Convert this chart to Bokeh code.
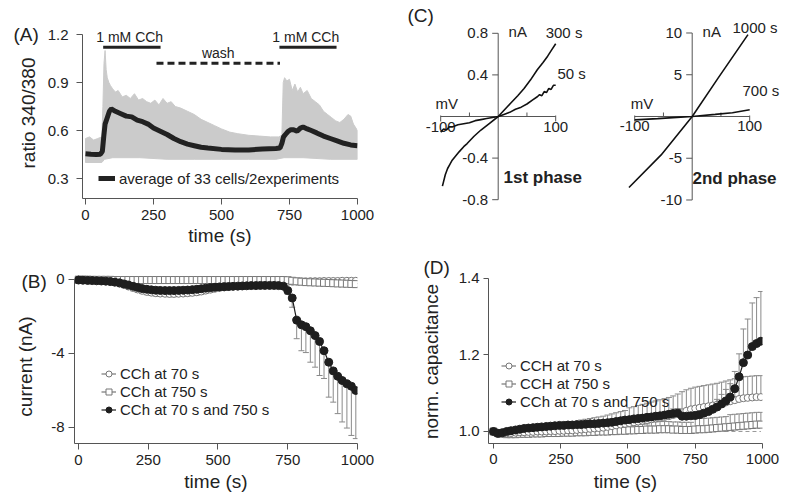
import math
from bokeh.plotting import figure
from bokeh.layouts import column, row
from bokeh.models import (ColumnDataSource, Whisker, TeeHead, Legend, LegendItem,
                          FixedTicker, PrintfTickFormatter, Range1d)
from bokeh.embed import file_html
from bokeh.resources import INLINE
from bokeh.core.properties import value

FONT = "Liberation Sans"
TXT = "#222222"
AX = "#555555"

# ---------------- Panel A data ----------------
avg_t = [0, 20, 40, 55, 62, 67, 72, 80, 88, 95, 110, 130, 150, 170, 190, 210, 230, 250, 275, 300,
         325, 350, 375, 400, 425, 450, 500, 550, 600, 650, 700, 715, 722, 728, 735, 745, 755, 765,
         778, 790, 800, 815, 830, 850, 875, 900, 925, 950, 975, 1000]
avg_v = [0.455, 0.452, 0.450, 0.452, 0.47, 0.56, 0.64, 0.68, 0.72, 0.735, 0.72, 0.705, 0.69, 0.685,
         0.665, 0.655, 0.64, 0.615, 0.595, 0.575, 0.55, 0.53, 0.515, 0.505, 0.495, 0.49, 0.482,
         0.478, 0.478, 0.485, 0.488, 0.49, 0.52, 0.56, 0.575, 0.595, 0.605, 0.605, 0.595, 0.615,
         0.622, 0.61, 0.60, 0.585, 0.565, 0.55, 0.535, 0.52, 0.51, 0.505]
cells_up_t = [0, 15, 30, 45, 60, 64, 68, 72, 76, 80, 86, 92, 100, 110, 120, 135, 150, 165, 180, 195,
              210, 225, 240, 255, 270, 285, 300, 315, 330, 350, 375, 400, 425, 450, 475, 500, 530,
              560, 600, 640, 680, 710, 722, 727, 732, 740, 750, 760, 770, 780, 790, 800, 815, 830,
              845, 860, 875, 890, 905, 920, 935, 950, 965, 975, 985, 1000]
cells_up_v = [0.55, 0.56, 0.54, 0.55, 0.56, 0.75, 1.02, 1.10, 0.98, 0.93, 0.90, 0.88, 0.86, 0.84,
              0.85, 0.81, 0.82, 0.80, 0.83, 0.79, 0.80, 0.78, 0.77, 0.79, 0.76, 0.80, 0.77, 0.78,
              0.75, 0.74, 0.72, 0.70, 0.67, 0.65, 0.63, 0.61, 0.59, 0.58, 0.57, 0.565, 0.56, 0.56,
              0.57, 0.90, 0.93, 0.91, 0.92, 0.85, 0.89, 0.84, 0.87, 0.83, 0.85, 0.80, 0.78, 0.76,
              0.72, 0.70, 0.68, 0.66, 0.65, 0.67, 0.70, 0.69, 0.64, 0.60]
cells_lo_t = [0, 60, 70, 100, 200, 300, 400, 500, 600, 700, 730, 800, 900, 1000]
cells_lo_v = [0.40, 0.40, 0.42, 0.43, 0.43, 0.42, 0.42, 0.42, 0.42, 0.42, 0.43, 0.43, 0.42, 0.42]
cch_on = [65, 713]
cch_off = [276, 923]
cch_text = ["1 mM CCh", "1 mM CCh"]
wash_on = [261]
wash_off = [715]
wash_text = ["wash"]
a_xticks = [0, 250, 500, 750, 1000]
a_yticks = [0.3, 0.6, 0.9, 1.2]

# ---------------- Panels B and D data ----------------
sweep_t = [0, 16, 33, 49, 65, 82, 98, 114, 130, 147, 163, 179, 196, 212, 228, 245, 261, 277, 293, 310,
           326, 342, 359, 375, 391, 408, 424, 440, 456, 473, 489, 505, 522, 538, 554, 571, 587, 603,
           619, 636, 652, 668, 685, 701, 717, 734, 750, 766, 782, 799, 815, 831, 848, 864, 880, 897,
           913, 929, 945, 962, 978, 994]

B_both = [-0.03, -0.04, -0.05, -0.06, -0.07, -0.08, -0.09, -0.11, -0.14, -0.18,
          -0.24, -0.30, -0.37, -0.43, -0.49, -0.53, -0.56, -0.58, -0.59, -0.60,
          -0.60, -0.60, -0.59, -0.58, -0.57, -0.55, -0.53, -0.50, -0.47, -0.44,
          -0.42, -0.40, -0.39, -0.38, -0.37, -0.36, -0.35, -0.34, -0.33, -0.33,
          -0.32, -0.32, -0.32, -0.32, -0.33, -0.36, -0.60, -1.00, -2.20, -2.45,
          -2.55, -2.77, -3.03, -3.35, -3.85, -4.47, -4.94, -5.23, -5.46, -5.64,
          -5.77, -6.00]
B_both_err = [0.05] * 10 + [0.10] * 20 + [0.08] * 16 + [
    0.20, 0.50, 1.00, 1.40, 1.40, 1.70, 1.71, 1.84, 1.50, 1.89, 1.69, 2.02, 2.24, 2.39, 2.66, 2.60]
B_70 = [-0.01, -0.01, -0.02, -0.02, -0.03, -0.05, -0.08, -0.12, -0.17, -0.23,
        -0.30, -0.38, -0.46, -0.54, -0.61, -0.67, -0.71, -0.74, -0.76, -0.77,
        -0.78, -0.78, -0.77, -0.76, -0.74, -0.72, -0.69, -0.65, -0.60, -0.55,
        -0.50, -0.46, -0.43, -0.40, -0.37, -0.35, -0.33, -0.31, -0.29, -0.27,
        -0.25, -0.23, -0.21, -0.19, -0.17, -0.15, -0.13, -0.12, -0.11, -0.10,
        -0.10, -0.09, -0.09, -0.09, -0.08, -0.08, -0.08, -0.08, -0.07, -0.07,
        -0.07, -0.07]
B_70_err = [0.03] * 12 + [0.15] * 18 + [0.10] * 16 + [0.06] * 16
B_750 = [-0.01, -0.01, -0.01, -0.02, -0.02, -0.02, -0.02, -0.02, -0.03, -0.03,
         -0.03, -0.03, -0.03, -0.03, -0.03, -0.03, -0.03, -0.03, -0.03, -0.03,
         -0.03, -0.03, -0.03, -0.03, -0.03, -0.03, -0.03, -0.03, -0.03, -0.03,
         -0.03, -0.03, -0.03, -0.03, -0.03, -0.03, -0.03, -0.03, -0.03, -0.03,
         -0.03, -0.03, -0.03, -0.03, -0.03, -0.03, -0.04, -0.07, -0.10, -0.12,
         -0.14, -0.15, -0.16, -0.17, -0.18, -0.19, -0.20, -0.21, -0.22, -0.23,
         -0.24, -0.25]
B_750_err = [0.08] * 46 + [0.12] * 16

D_both = [1.000, 0.995, 0.997, 1.000, 1.002, 1.004, 1.006, 1.008, 1.009, 1.010,
          1.011, 1.012, 1.013, 1.014, 1.015, 1.016, 1.016, 1.017, 1.017, 1.018,
          1.018, 1.019, 1.020, 1.020, 1.021, 1.022, 1.023, 1.024, 1.026, 1.028,
          1.030, 1.031, 1.033, 1.034, 1.035, 1.037, 1.038, 1.040, 1.041, 1.043,
          1.045, 1.047, 1.048, 1.040, 1.040, 1.041, 1.042, 1.044, 1.048, 1.052,
          1.058, 1.064, 1.072, 1.080, 1.090, 1.112, 1.143, 1.180, 1.200, 1.222,
          1.230, 1.236]
D_both_err = [0.004] * 20 + [0.008] * 21 + [0.012] * 10 + [
    0.020, 0.025, 0.030, 0.035, 0.045, 0.060, 0.088, 0.094, 0.114, 0.120, 0.130]
D_70 = [1.000, 0.997, 0.995, 0.995, 0.996, 0.997, 0.998, 0.998, 0.999, 0.999,
        1.000, 1.000, 1.000, 1.001, 1.001, 1.002, 1.002, 1.003, 1.003, 1.004,
        1.005, 1.006, 1.007, 1.008, 1.009, 1.010, 1.012, 1.014, 1.016, 1.018,
        1.020, 1.022, 1.024, 1.026, 1.028, 1.030, 1.032, 1.034, 1.036, 1.038,
        1.040, 1.043, 1.046, 1.050, 1.054, 1.058, 1.060, 1.062, 1.064, 1.066,
        1.068, 1.070, 1.073, 1.076, 1.079, 1.082, 1.085, 1.087, 1.088, 1.089,
        1.090, 1.090]
D_70_err = [0.004] * 10 + [0.010, 0.011, 0.012, 0.013, 0.014, 0.015, 0.016, 0.017, 0.018, 0.020] + [
    0.025, 0.026, 0.027, 0.028, 0.029, 0.030, 0.031, 0.032, 0.033, 0.034, 0.035] + [
    0.040, 0.041, 0.042, 0.043, 0.044, 0.045, 0.046, 0.047, 0.048, 0.049, 0.050, 0.052, 0.054, 0.055, 0.055] + [
    0.056] * 16
D_750 = [1.000, 0.996, 0.994, 0.993, 0.993, 0.993, 0.994, 0.994, 0.994, 0.995,
         0.995, 0.995, 0.996, 0.996, 0.996, 0.996, 0.997, 0.997, 0.997, 0.998,
         0.998, 0.998, 0.999, 0.999, 1.000, 1.000, 1.000, 1.001, 1.001, 1.002,
         1.002, 1.003, 1.003, 1.004, 1.004, 1.005, 1.005, 1.005, 1.006, 1.006,
         1.006, 1.005, 1.005, 1.004, 1.004, 1.004, 1.005, 1.006, 1.006, 1.007,
         1.008, 1.009, 1.010, 1.011, 1.012, 1.013, 1.014, 1.015, 1.016, 1.017,
         1.018, 1.018]
D_750_err = [0.005] * 10 + [0.010] * 11 + [0.015] * 15 + [0.020] * 10 + [0.028] * 8 + [0.032] * 8
bd_xticks = [0, 250, 500, 750, 1000]
b_yticks = [-8, -4, 0]
d_yticks = [1.0, 1.2, 1.4]

# ---------------- Panel C data ----------------
c1_300_mv = [-97, -92, -88, -84, -80, -74, -68, -60, -54, -42, -30, -15, 0, 11, 22, 34, 45, 56, 68, 78, 86, 93, 100]
c1_300_na = [-0.67, -0.56, -0.50, -0.46, -0.42, -0.38, -0.34, -0.29, -0.26, -0.19, -0.13, -0.065, 0.0,
             0.065, 0.13, 0.20, 0.27, 0.35, 0.45, 0.52, 0.58, 0.64, 0.70]
c1_50_mv = [-100, -95, -90, -85, -80, -70, -60, -50, -40, -30, -20, -10, 0, 10, 20, 30, 40, 50, 60, 68,
            72, 76, 80, 84, 88, 92, 96, 100]
c1_50_na = [-0.15, -0.12, -0.13, -0.10, -0.10, -0.08, -0.07, -0.06, -0.04, -0.03, -0.02, -0.01, 0.0,
            0.02, 0.04, 0.07, 0.09, 0.12, 0.16, 0.19, 0.21, 0.20, 0.24, 0.23, 0.27, 0.26, 0.30, 0.30]
c2_1000_mv = [-110, -54, 0, 45, 97]
c2_1000_na = [-8.5, -4.6, 0.0, 4.6, 9.8]
c2_700_mv = [-100, -60, -20, 0, 40, 70, 100]
c2_700_na = [-0.4, -0.25, -0.08, 0.0, 0.25, 0.45, 0.8]
c1_yticks = [0.8, 0.4, -0.4, -0.8]
c2_yticks = [10, 5, -5, -10]
c_xticks = [-100, 100]
c_xminor = [-50, 50]


def make_fig(w, h, xr, yr, ml, mr, mt, mb, axes=True):
    kw = dict(width=w, height=h, x_range=Range1d(*xr), y_range=Range1d(*yr),
              output_backend="svg", toolbar_location=None,
              min_border_left=ml, min_border_right=mr, min_border_top=mt, min_border_bottom=mb)
    if not axes:
        kw.update(x_axis_type=None, y_axis_type=None)
    p = figure(**kw)
    if hasattr(p, "frame_align"):
        p.frame_align = False
    p.grid.visible = False
    p.outline_line_color = None
    p.background_fill_color = "white"
    p.border_fill_color = "white"
    return p


def style_axes(p, xticks, yticks, yfmt, tick_out, xstand, ystand, ybounds, xtitle, title_stand):
    for ax in (p.xaxis[0], p.yaxis[0]):
        ax.axis_line_color = AX
        ax.major_tick_line_color = AX
        ax.major_tick_in = 0
        ax.major_tick_out = tick_out
        ax.minor_tick_line_color = None
        ax.major_label_text_font = FONT
        ax.major_label_text_font_size = "15px"
        ax.major_label_text_color = TXT
    p.xaxis.major_label_standoff = xstand
    p.yaxis.major_label_standoff = ystand
    p.xaxis.ticker = FixedTicker(ticks=xticks)
    p.yaxis.ticker = FixedTicker(ticks=yticks)
    p.yaxis.formatter = PrintfTickFormatter(format=yfmt)
    p.yaxis.bounds = ybounds
    p.xaxis.axis_label = xtitle
    p.xaxis.axis_label_text_font = FONT
    p.xaxis.axis_label_text_font_size = "19px"
    p.xaxis.axis_label_text_font_style = "normal"
    p.xaxis.axis_label_text_color = TXT
    p.xaxis.axis_label_standoff = title_stand


def ptext(p, x, y, s, size="19px", angle=0.0, align="left", baseline="middle", bold=False):
    p.text(x=[x], y=[y], text=[s], angle=angle, text_font=value(FONT), text_font_size=value(size),
           text_color=TXT, text_align=align, text_baseline=baseline,
           text_font_style="bold" if bold else "normal")


def add_legend(p, items, x, y, gw, gh, spacing):
    lg = Legend(items=items, location=(x, y), orientation="vertical",
                glyph_width=gw, glyph_height=gh, label_height=gh, label_width=10,
                label_standoff=4, spacing=spacing, padding=0, margin=0,
                border_line_color=None, background_fill_alpha=0,
                label_text_font=FONT, label_text_font_size="15px", label_text_color=TXT)
    p.add_layout(lg)


def strip(x0, x1, y0, y1):
    # a text-only strip whose coordinates equal page pixels
    return make_fig(x1 - x0, y1 - y0, (x0, x1), (y1, y0), 0, 0, 0, 0, axes=False)


# ======================= Panel A =======================
sA = strip(0, 44, 0, 258)
ptext(sA, 13, 33.5, "(A)")
ptext(sA, 28, 112.5, "ratio 340/380", angle=math.pi / 2, align="center")

pA = make_fig(356, 258, (-11, 1000), (0.175, 1.2875), 38, 43, 20, 60)
style_axes(pA, a_xticks, a_yticks, "%.1f", 6, 5, 8, (0.175, 1.2), "time (s)", 2)
pA.patch(x=cells_up_t + cells_lo_t[::-1], y=cells_up_v + cells_lo_v[::-1],
         fill_color="#cbcbcb", line_color="#cbcbcb", line_width=1)
avg_r = pA.line(avg_t, avg_v, line_width=5, line_color="#222222")
pA.segment(x0=cch_on, x1=cch_off, y0=[1.12] * len(cch_on), y1=[1.12] * len(cch_on),
           line_width=3, line_color="#222222")
pA.segment(x0=wash_on, x1=wash_off, y0=[1.02] * len(wash_on), y1=[1.02] * len(wash_on),
           line_width=3, line_color="#222222", line_dash="7 4")
pA.text(x=[(a + b) / 2 - 8 for a, b in zip(cch_on, cch_off)], y=[1.183] * len(cch_on), text=cch_text,
        text_font=value(FONT), text_font_size=value("14px"), text_color=TXT,
        text_align="center", text_baseline="middle")
pA.text(x=[(a + b) / 2 for a, b in zip(wash_on, wash_off)], y=[1.084] * len(wash_on), text=wash_text,
        text_font=value(FONT), text_font_size=value("14px"), text_color=TXT,
        text_align="center", text_baseline="middle")
add_legend(pA, [LegendItem(label="average of 33 cells/2experiments", renderers=[avg_r])], 16, 10, 17, 20, 0)


# ======================= helper for B / D series =======================
def series(p, t, v, err, marker, size, fill, line, down):
    lo = [a - e for a, e in zip(v, err)] if down else v
    hi = v if down else [a + e for a, e in zip(v, err)]
    src = ColumnDataSource(dict(t=t, v=v, lo=lo, hi=hi))
    head = TeeHead(size=6, line_color="#8a8a8a", line_width=1)
    wk = Whisker(base="t", lower="lo", upper="hi", source=src, dimension="height",
                 line_color="#8a8a8a", line_width=1, level="underlay",
                 lower_head=head if down else None, upper_head=None if down else head)
    p.add_layout(wk)
    lr = p.line("t", "v", source=src, line_color=line, line_width=1.2)
    sr = p.scatter("t", "v", source=src, marker=marker, size=size, fill_color=fill,
                   line_color=line, line_width=1)
    return [lr, sr]


# ======================= Panel B =======================
sB = strip(0, 48, 258, 497)
ptext(sB, 21, 281, "(B)")
ptext(sB, 24.5, 366, "current (nA)", angle=math.pi / 2, align="center")

pB = make_fig(352, 239, (-14.2857, 1000), (-8.865, 0.486), 25, 43, 12, 54)
style_axes(pB, bd_xticks, b_yticks, "%d", 6, 5, 4, (-8.865, 0), "time (s)", 3)
rb70 = series(pB, sweep_t, B_70, B_70_err, "circle", 7, "white", "#777777", True)
rb750 = series(pB, sweep_t, B_750, B_750_err, "square", 7, "white", "#777777", True)
rbb = series(pB, sweep_t, B_both, B_both_err, "circle", 8, "#1e1e1e", "#1e1e1e", True)
add_legend(pB, [LegendItem(label="CCh at 70 s", renderers=rb70),
                LegendItem(label="CCh at 750 s", renderers=rb750),
                LegendItem(label="CCh at 70 s and 750 s", renderers=rbb)], 27, 25, 15, 15, 1)

# ======================= Panel D =======================
sD = strip(400, 455, 258, 497)
ptext(sD, 423, 267, "(D)")
ptext(sD, 431, 361, "norm. capacitance", angle=math.pi / 2, align="center")

pD = make_fig(331, 239, (-18.5, 1000), (0.96863, 1.4261), 32, 24, 10, 54)
style_axes(pD, bd_xticks, d_yticks, "%.1f", 5, 5, 4, (0.96863, 1.4), "time (s)", 4)
pD.line(x=[sweep_t[0], sweep_t[-1]], y=[1.0, 1.0], line_color="#999999", line_width=1, line_dash="4 3")
rd750 = series(pD, sweep_t, D_750, D_750_err, "square", 7, "white", "#777777", False)
rd70 = series(pD, sweep_t, D_70, D_70_err, "circle", 7, "white", "#777777", False)
rdb = series(pD, sweep_t, D_both, D_both_err, "circle", 8, "#1e1e1e", "#1e1e1e", False)
add_legend(pD, [LegendItem(label="CCH at 70 s", renderers=rd70),
                LegendItem(label="CCH at 750 s", renderers=rd750),
                LegendItem(label="CCh at 70 s and 750 s", renderers=rdb)], 13, 33, 15, 15, 1)


# ======================= Panel C =======================
def cross_axes(p, px_x, px_y, ylim, yticks, ylabels, xticks, xlabels, xminor):
    p.segment(x0=[xticks[0], 0], y0=[0, ylim[0]], x1=[xticks[-1], 0], y1=[0, ylim[1]],
              line_color=AX, line_width=1)
    n = len(yticks)
    p.segment(x0=[-6 / px_x] * n, x1=[0] * n, y0=yticks, y1=yticks, line_color=AX, line_width=1)
    m = len(xticks)
    p.segment(x0=xticks, x1=xticks, y0=[-5 / px_y] * m, y1=[1 / px_y] * m, line_color=AX, line_width=1)
    k = len(xminor)
    p.segment(x0=xminor, x1=xminor, y0=[0] * k, y1=[4 / px_y] * k, line_color=AX, line_width=1)
    p.text(x=[-10 / px_x] * n, y=yticks, text=ylabels, text_font=value(FONT),
           text_font_size=value("15px"), text_color=TXT, text_align="right", text_baseline="middle")
    p.text(x=xticks, y=[-5 / px_y] * m, text=xlabels, text_font=value(FONT),
           text_font_size=value("15px"), text_color=TXT, text_align="center", text_baseline="top")


def ctext(p, x, y, s, size="15px", bold=False):
    ptext(p, x, y, s, size=size, baseline="middle", bold=bold)


PXX = 0.575
pC1 = make_fig(190, 258, (-169.9, 160.53), (-1.3654, 1.1154), 0, 0, 0, 0, axes=False)
cross_axes(pC1, PXX, 104.0, (-0.8, 0.8), c1_yticks, ["%.1f" % v for v in c1_yticks],
           c_xticks, ["%d" % v for v in c_xticks], c_xminor)
pC1.line(c1_50_mv, c1_50_na, line_color="#111111", line_width=1.6)
pC1.line(c1_300_mv, c1_300_na, line_color="#111111", line_width=1.6)
ctext(pC1, -109, 0.125, "mV")
ctext(pC1, 18, 0.815, "nA")
ctext(pC1, 82.6, 0.808, "300 s")
ctext(pC1, 103, 0.413, "50 s")
ctext(pC1, 9.2, -0.591, "1st phase", size="17px", bold=True)
ctext(pC1, -157.7, 0.971, "(C)", size="19px")

pC2 = make_fig(196, 258, (-176.87, 164.0), (-17.006, 13.892), 0, 0, 0, 0, axes=False)
cross_axes(pC2, PXX, 8.35, (-10, 10), c2_yticks, ["%d" % v for v in c2_yticks],
           c_xticks, ["%d" % v for v in c_xticks], c_xminor)
pC2.line(c2_700_mv, c2_700_na, line_color="#111111", line_width=1.6)
pC2.line(c2_1000_mv, c2_1000_na, line_color="#111111", line_width=1.6)
ctext(pC2, -107, 1.557, "mV")
ctext(pC2, 18, 10.16, "nA")
ctext(pC2, 70, 10.66, "1000 s")
ctext(pC2, 87.5, 3.11, "700 s")
ctext(pC2, 0.5, -7.37, "2nd phase", size="17px", bold=True)

layout = column(row(sA, pA, pC1, pC2), row(sB, pB, sD, pD))
open("out.html", "w").write(file_html(layout, INLINE))
